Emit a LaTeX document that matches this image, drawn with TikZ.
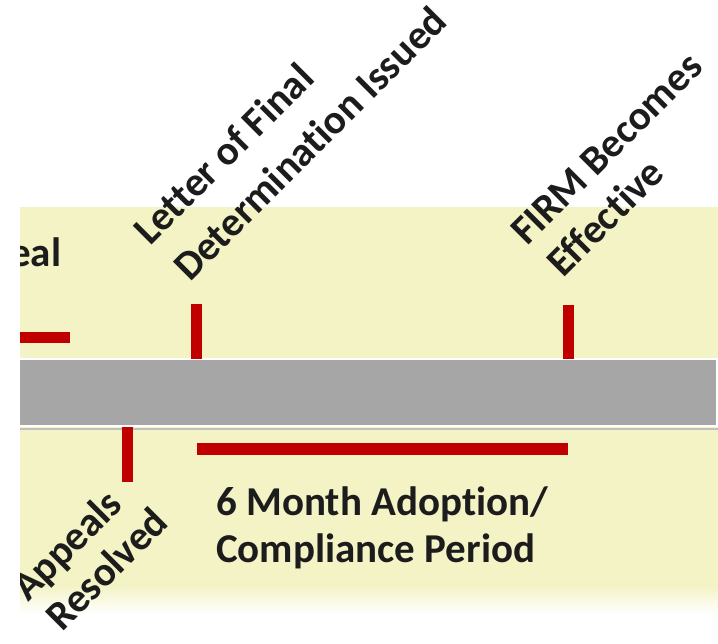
\documentclass[tikz,border=0pt]{standalone}
\usepackage{fontspec}
\newfontfamily\labelfont[Ligatures={NoCommon}]{Carlito}
\definecolor{bandyellow}{RGB}{243,243,198}
\definecolor{bargray}{RGB}{166,166,166}
\definecolor{markred}{RGB}{192,0,0}
\definecolor{ink}{RGB}{28,28,28}
\begin{document}
\begin{tikzpicture}[x=1pt,y=-1pt,
  lbl/.style={font=\labelfont\bfseries\fontsize{41}{46}\selectfont, text=ink, inner sep=0pt, anchor=base west},
  slanted/.style={lbl, rotate=45},
  redmark/.style={draw=markred, line width=11pt},
  markshadow/.style={draw=black, opacity=0.22, line width=11pt}]
\useasboundingbox (0,0) rectangle (718,644);
\begin{scope}
\clip (20,0) rectangle (718,644);
% pale yellow band, fading out at the bottom
\fill[bandyellow] (20,207) rectangle (718,586);
\shade[top color=bandyellow, bottom color=white] (20,585.5) rectangle (718,614);
% timeline bar
\draw[black!25, line width=1.2pt] (20,429) -- (718,429);
\fill[bargray, draw=white, line width=1.5pt] (18,359) rectangle (717,426);

% tick positions
\coordinate (lfdTop) at (196,304);
\coordinate (lfdBot) at (196,359);
\coordinate (firmTop) at (568,305);
\coordinate (firmBot) at (568,359);
\coordinate (apTop) at (127.5,427);
\coordinate (apBot) at (127.5,482);
\coordinate (appealL) at (14,337.5);
\coordinate (appealR) at (70,337.5);
\coordinate (periodL) at (197,449);
\coordinate (periodR) at (568,449);

% soft shadows under the red marks
\begin{scope}[shift={(2.5,2.5)}]
\draw[markshadow] (appealL) -- (appealR);
\draw[markshadow] (lfdTop) -- (lfdBot);
\draw[markshadow] (firmTop) -- (firmBot);
\draw[markshadow] (apTop) -- (apBot);
\draw[markshadow, line width=12pt] (periodL) -- (periodR);
\end{scope}

% red marks
\draw[redmark] (appealL) -- (appealR);
\draw[redmark] (lfdTop) -- (lfdBot);
\draw[redmark] (firmTop) -- (firmBot);
\draw[redmark] (apTop) -- (apBot);
\draw[redmark, line width=12pt] (periodL) -- (periodR);

% labels
\node[lbl] (appeal) at (10,267) {eal};
\node[slanted] (lfd1) at (150,247) {Letter of Final};
\node[slanted] (lfd2) at (190,283) {Determination Issued};
\node[slanted] (firm1) at (527,247) {FIRM Becomes};
\node[slanted] (firm2) at (563,279) {Effective};
\node[slanted] (res1) at (28,603) {Appeals};
\node[slanted] (res2) at (62,633) {Resolved};
\node[lbl] (period1) at (216,515) {6 Month Adoption/};
\node[lbl] (period2) at (216,562) {Compliance Period};
\end{scope}
\end{tikzpicture}
\end{document}
